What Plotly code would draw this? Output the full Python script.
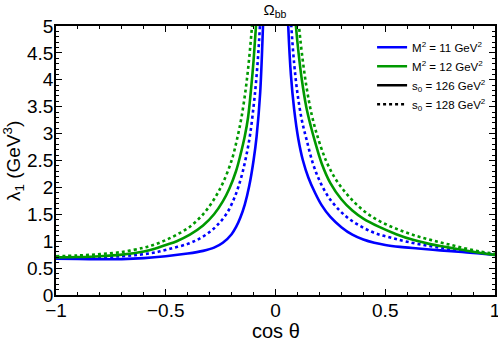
import plotly.graph_objects as go

# Values; left branch (cos theta < 0) and right branch (cos theta > 0)
# Blue solid: M^2 = 11, s0 = 126
x_bs_l = [-1.0, -0.9, -0.8, -0.7, -0.6, -0.5, -0.4, -0.33, -0.28, -0.24, -0.2, -0.18, -0.16, -0.14, -0.12, -0.1, -0.086, -0.07, -0.057, -0.047]
y_bs_l = [0.675, 0.668, 0.665, 0.667, 0.685, 0.72, 0.77, 0.82, 0.88, 0.97, 1.13, 1.26, 1.44, 1.68, 2.02, 2.5, 2.95, 3.75, 5.0, 6.3]
x_bs_r = [0.048, 0.058, 0.07, 0.085, 0.104, 0.125, 0.15, 0.18, 0.21, 0.25, 0.3, 0.35, 0.4, 0.45, 0.5, 0.567, 0.65, 0.75, 0.85, 0.93, 1.0]
y_bs_r = [6.3, 5.0, 4.1, 3.45, 2.9, 2.5, 2.18, 1.9, 1.67, 1.45, 1.26, 1.12, 1.03, 0.97, 0.93, 0.895, 0.865, 0.83, 0.80, 0.77, 0.745]

# Blue dotted: M^2 = 11, s0 = 128
x_bd_l = [-1.0, -0.9, -0.8, -0.7, -0.62, -0.55, -0.48, -0.4, -0.35, -0.3, -0.26, -0.22, -0.19, -0.17, -0.15, -0.13, -0.115, -0.1, -0.09, -0.08, -0.071, -0.062]
y_bd_l = [0.70, 0.70, 0.705, 0.72, 0.75, 0.79, 0.86, 0.95, 1.04, 1.17, 1.32, 1.53, 1.78, 2.0, 2.28, 2.65, 3.0, 3.5, 3.9, 4.4, 5.0, 5.8]
x_bd_r = [0.062, 0.072, 0.085, 0.1, 0.12, 0.142, 0.17, 0.2, 0.24, 0.29, 0.34, 0.4, 0.46, 0.53, 0.6, 0.7, 0.8, 0.9, 1.0]
y_bd_r = [5.7, 5.0, 4.3, 3.75, 3.25, 2.88, 2.45, 2.13, 1.83, 1.58, 1.40, 1.25, 1.14, 1.06, 0.99, 0.91, 0.85, 0.80, 0.755]

# Green solid: M^2 = 12, s0 = 126
x_gs_l = [-1.0, -0.9, -0.8, -0.7, -0.6, -0.55, -0.5, -0.45, -0.39, -0.33, -0.28, -0.24, -0.21, -0.18, -0.16, -0.14, -0.125, -0.112, -0.1, -0.089, -0.08]
y_gs_l = [0.70, 0.705, 0.72, 0.75, 0.81, 0.86, 0.93, 1.0, 1.12, 1.29, 1.5, 1.74, 1.98, 2.3, 2.6, 2.95, 3.3, 3.8, 4.35, 5.0, 5.7]
x_gs_r = [0.083, 0.093, 0.105, 0.12, 0.14, 0.16, 0.18, 0.21, 0.25, 0.3, 0.35, 0.4, 0.47, 0.55, 0.63, 0.7, 0.78, 0.85, 0.92, 1.0]
y_gs_r = [5.6, 5.0, 4.5, 4.0, 3.5, 3.15, 2.85, 2.45, 2.08, 1.78, 1.57, 1.42, 1.27, 1.13, 1.02, 0.95, 0.89, 0.84, 0.79, 0.745]

# Green dotted: M^2 = 12, s0 = 128
x_gd_l = [-1.0, -0.9, -0.8, -0.7, -0.6, -0.55, -0.5, -0.45, -0.39, -0.33, -0.28, -0.24, -0.2, -0.175, -0.155, -0.135, -0.12, -0.107, -0.097]
y_gd_l = [0.72, 0.735, 0.76, 0.80, 0.88, 0.94, 1.02, 1.12, 1.27, 1.5, 1.78, 2.08, 2.5, 2.9, 3.3, 3.85, 4.4, 5.0, 5.6]
x_gd_r = [0.097, 0.107, 0.12, 0.14, 0.165, 0.195, 0.23, 0.27, 0.32, 0.37, 0.43, 0.5, 0.57, 0.64, 0.71, 0.78, 0.86, 0.93, 1.0]
y_gd_r = [5.5, 5.0, 4.5, 3.9, 3.35, 2.9, 2.5, 2.18, 1.9, 1.68, 1.48, 1.32, 1.2, 1.1, 1.02, 0.95, 0.87, 0.81, 0.765]

x_tickvals = [-1, -0.5, 0, 0.5, 1]
x_ticktext = ["\u22121", "\u22120.5", "0", "0.5", "1"]
y_tickvals = [0, 0.5, 1, 1.5, 2, 2.5, 3, 3.5, 4, 4.5, 5]
y_ticktext = ["0", "0.5", "1", "1.5", "2", "2.5", "3", "3.5", "4", "4.5", "5"]

legend_labels = ["M<sup>2</sup> = 11 GeV<sup>2</sup>", "M<sup>2</sup> = 12 GeV<sup>2</sup>",
                 "s<sub>0</sub> = 126 GeV<sup>2</sup>", "s<sub>0</sub> = 128 GeV<sup>2</sup>"]

BLUE = "#0000ff"
GREEN = "#009900"
LW = 2.6
FONT = "Liberation Sans, Arial, Helvetica, sans-serif"

fig = go.Figure()


def branch(xl, yl, xr, yr, color, dash):
    xs = list(xl) + [None] + list(xr)
    ys = list(yl) + [None] + list(yr)
    fig.add_trace(go.Scatter(x=xs, y=ys, mode="lines", showlegend=False,
                             connectgaps=False, hoverinfo="skip",
                             line=dict(color=color, width=LW, dash=dash,
                                       shape="spline", smoothing=1.0)))


branch(x_bs_l, y_bs_l, x_bs_r, y_bs_r, BLUE, "solid")
branch(x_bd_l, y_bd_l, x_bd_r, y_bd_r, BLUE, "dot")
branch(x_gs_l, y_gs_l, x_gs_r, y_gs_r, GREEN, "solid")
branch(x_gd_l, y_gd_l, x_gd_r, y_gd_r, GREEN, "dot")

# legend-only entries
for lab, col, dash in zip(legend_labels, [BLUE, GREEN, "black", "black"],
                          ["solid", "solid", "solid", "dot"]):
    fig.add_trace(go.Scatter(x=[None], y=[None], mode="lines", name=lab,
                             line=dict(color=col, width=LW, dash=dash)))

axis_common = dict(showline=True, linecolor="black", linewidth=1.5, mirror="allticks",
                   ticks="inside", ticklen=6, tickwidth=1.2, tickcolor="black",
                   showgrid=False, zeroline=False, automargin=False,
                   ticklabeloverflow="allow",
                   tickfont=dict(family=FONT, size=19, color="black"),
                   minor=dict(ticks="inside", ticklen=3, tickwidth=1, tickcolor="black",
                              dtick=0.1, showgrid=False))

fig.update_xaxes(range=[-1, 1], tickmode="array", tickvals=x_tickvals, ticktext=x_ticktext,
                 ticklabelstandoff=-3, **axis_common)
fig.update_yaxes(range=[0, 5], tickmode="array", tickvals=y_tickvals, ticktext=y_ticktext,
                 ticklabelstandoff=-3, **axis_common)

fig.add_annotation(text="cos \u03b8", xref="paper", yref="paper", x=0.5, y=-0.134,
                   xanchor="center", yanchor="middle", showarrow=False,
                   font=dict(family=FONT, size=20, color="black"))
fig.add_annotation(text="\u03bb<sub>1</sub> (GeV<sup>3</sup>)", xref="paper", yref="paper",
                   x=-0.097, y=0.5, xanchor="center", yanchor="middle", textangle=-90,
                   showarrow=False, font=dict(family=FONT, size=19, color="black"))

fig.update_layout(
    width=498, height=338,
    margin=dict(l=56, r=3, t=26, b=43, autoexpand=False),
    paper_bgcolor="white", plot_bgcolor="white",
    title=dict(text="\u03a9<sub>bb</sub>", x=0.552, xanchor="center", y=0.972, yanchor="middle",
               font=dict(family=FONT, size=15, color="black")),
    legend=dict(x=0.72, y=0.975, xanchor="left", yanchor="top", bgcolor="rgba(0,0,0,0)",
                font=dict(family=FONT, size=11.5, color="black"), tracegroupgap=0,
                itemwidth=30),
    font=dict(family=FONT, color="black"),
)

fig.write_html("out.html", config={"displayModeBar": False},
               post_script="document.body.style.margin='0';document.body.style.overflow='hidden';")
